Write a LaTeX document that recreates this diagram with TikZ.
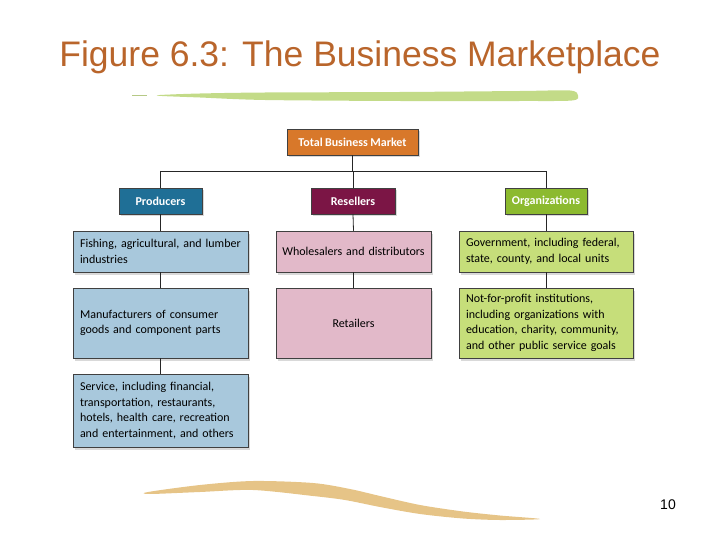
\documentclass[tikz,border=0pt]{standalone}
\usepackage{fontspec}
\setmainfont{Carlito}[WordSpace=0.85]
\newfontfamily\titlefont{Liberation Sans}
\usetikzlibrary{shadows}
\definecolor{titlecol}{HTML}{B9652B}
\definecolor{totalcol}{HTML}{D8782A}
\definecolor{prodcol}{HTML}{1F6F96}
\definecolor{rescol}{HTML}{7B1545}
\definecolor{orgcol}{HTML}{8CBA2F}
\definecolor{prodlight}{HTML}{A8C8DC}
\definecolor{reslight}{HTML}{E2B9C9}
\definecolor{orglight}{HTML}{C6DE7A}
\definecolor{greenstroke}{HTML}{C3DB88}
\definecolor{tanstroke}{HTML}{E6C487}
\begin{document}
\begin{tikzpicture}[x=1pt,y=-1pt,
  basebox/.style={rectangle, draw=black!75, line width=0.5pt, inner xsep=7pt, inner ysep=3pt,
    drop shadow={shadow xshift=2pt, shadow yshift=-2.5pt, opacity=0.3}},
  headbox/.style={basebox, text=white, font=\fontsize{12}{14}\selectfont\bfseries, minimum height=26pt},
  leftbox/.style={basebox, align=left, font=\fontsize{12}{15.5}\selectfont},
  midbox/.style={basebox, inner xsep=3pt, align=center, font=\fontsize{12}{15.5}\selectfont},
  conn/.style={draw=black!85, line width=0.8pt}]
\useasboundingbox (0,0) rectangle (720,540);

% title
\node[font=\titlefont\fontsize{35.5}{40}\selectfont, text=titlecol, anchor=base] (title) at (360,67) {Figure 6.3: The Business Marketplace};

% decorative strokes
\fill[greenstroke] plot[smooth cycle] coordinates {(160,95) (200,93.5) (265,92.5) (400,92) (520,91) (570,90.5) (578,95.5) (572,100.5) (520,101) (400,101) (265,100) (200,97.5) (162,96)};
\draw[greenstroke!80!gray, line width=1pt] (132,95.5) -- (147,95.5);
\fill[tanstroke] plot[smooth cycle] coordinates {(148,492) (200,485) (253,481) (313,483) (350,489) (380,496) (420,505) (463,511.5) (500,515.5) (540,519) (500,520) (463,518.5) (420,514) (380,507) (345,500) (313,496) (253,490) (200,492) (150,494)};

% headers
\node[headbox, fill=totalcol, minimum width=131pt] (total) at (352.5,142) {Total Business Market};
\node[headbox, fill=prodcol, minimum width=83pt] (prod) at (160.5,201) {Producers};
\node[headbox, fill=rescol, minimum width=84pt] (res) at (353,201) {Resellers};
\node[headbox, fill=orgcol, minimum width=82pt] (org) at (546,201) {Organizations};

% producers column
\node[leftbox, fill=prodlight, minimum width=175pt, minimum height=41pt, text width=161pt] (p1) at (160.5,251.5) {Fishing, agricultural, and lumber\\industries};
\node[leftbox, fill=prodlight, minimum width=175pt, minimum height=70pt, text width=161pt] (p2) at (160.5,323) {Manufacturers of consumer\\goods and component parts};
\node[leftbox, fill=prodlight, minimum width=175pt, minimum height=73pt, text width=161pt] (p3) at (160.5,410.5) {Service, including financial,\\transportation, restaurants,\\hotels, health care, recreation\\and entertainment, and others};

% resellers column
\node[midbox, fill=reslight, minimum width=155pt, minimum height=41pt, text width=149pt] (r1) at (353.5,251.5) {Wholesalers and distributors};
\node[midbox, fill=reslight, minimum width=155pt, minimum height=70pt, text width=149pt] (r2) at (353.5,323) {Retailers};

% organizations column
\node[leftbox, fill=orglight, minimum width=174pt, minimum height=41pt, text width=160pt] (o1) at (546,251.5) {Government, including federal,\\state, county, and local units};
\node[leftbox, fill=orglight, minimum width=174pt, minimum height=70pt, text width=160pt] (o2) at (546,323) {Not-for-profit institutions,\\including organizations with\\education, charity, community,\\and other public service goals};

% connectors
\coordinate (jm) at (352.5,171);
\coordinate (jl) at (160.5,171);
\coordinate (jr) at (546,171);
\coordinate (jr2) at (353,171);
\draw[conn] (total.south) -- (jm);
\draw[conn] (jl) -- (jr);
\draw[conn] (jl) -- (prod.north);
\draw[conn] (jr2) -- (res.north);
\draw[conn] (jr) -- (org.north);
\draw[conn] (prod.south) -- (p1.north);
\draw[conn] (p1.south) -- (p2.north);
\draw[conn] (p2.south) -- (p3.north);
\draw[conn] (res.south) -- (r1.north);
\draw[conn] (r1.south) -- (r2.north);
\draw[conn] (org.south) -- (o1.north);
\draw[conn] (o1.south) -- (o2.north);

% page number
\node[font=\titlefont\fontsize{14}{16}\selectfont, anchor=base] (pnum) at (668,509) {10};
\end{tikzpicture}
\end{document}
